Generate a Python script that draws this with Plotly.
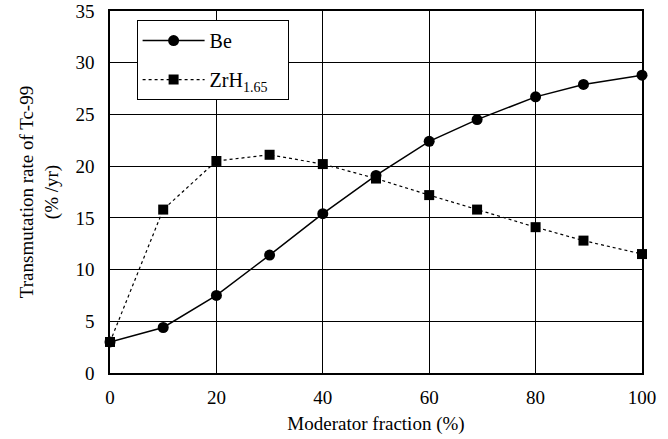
import plotly.graph_objects as go

fraction = [0, 10, 20, 30, 40, 50, 60, 69, 80, 89, 100]
be_rate = [3.0, 4.4, 7.5, 11.4, 15.4, 19.1, 22.4, 24.5, 26.7, 27.9, 28.8]
zrh_rate = [3.0, 15.8, 20.5, 21.1, 20.2, 18.8, 17.2, 15.8, 14.1, 12.8, 11.5]

font = "Liberation Serif, Times New Roman, serif"

fig = go.Figure()
fig.add_trace(go.Scatter(
    x=fraction, y=be_rate, name="Be", mode="lines+markers",
    legendgroup="be",
    line=dict(color="black", width=1.5),
    marker=dict(symbol="circle", size=11, color="black"),
    cliponaxis=False,
))
fig.add_trace(go.Scatter(
    x=fraction, y=zrh_rate, name="ZrH<sub>1.65</sub>\u00a0\u00a0\u00a0", mode="lines+markers",
    legendgroup="zrh",
    line=dict(color="black", width=1.2, dash="dot"),
    marker=dict(symbol="square", size=10, color="black"),
    cliponaxis=False,
))

fig.update_layout(
    width=668, height=439,
    margin=dict(l=110, r=26, t=11, b=66),
    paper_bgcolor="white", plot_bgcolor="white",
    font=dict(family=font, size=19, color="black"),
    showlegend=True,
    legend=dict(
        x=0.05, y=0.975, xanchor="left", yanchor="top",
        bordercolor="black", borderwidth=1, bgcolor="white",
        font=dict(family=font, size=20), itemwidth=62,
        tracegroupgap=10,
    ),
    xaxis=dict(
        range=[0, 100], tickvals=[0, 20, 40, 60, 80, 100],
        showgrid=True, gridcolor="black", gridwidth=1,
        showline=True, linecolor="black", linewidth=1.5, mirror=True,
        ticks="", zeroline=False, automargin=False,
        ticklabelstandoff=6,
        title=dict(text="Moderator fraction (%)", font=dict(family=font, size=19), standoff=10),
        tickfont=dict(family=font, size=19),
    ),
    yaxis=dict(
        range=[0, 35], tickvals=[0, 5, 10, 15, 20, 25, 30, 35],
        showgrid=True, gridcolor="black", gridwidth=1,
        showline=True, linecolor="black", linewidth=1.5, mirror=True,
        ticks="", zeroline=False, automargin=False,
        ticklabelstandoff=10,
        title=dict(text="Transmutation rate of Tc-99<br>(% /yr)", font=dict(family=font, size=19), standoff=12),
        tickfont=dict(family=font, size=19),
    ),
)

fig.write_html("out.html", config={"displayModeBar": False},
               post_script="document.body.style.margin='0';")
